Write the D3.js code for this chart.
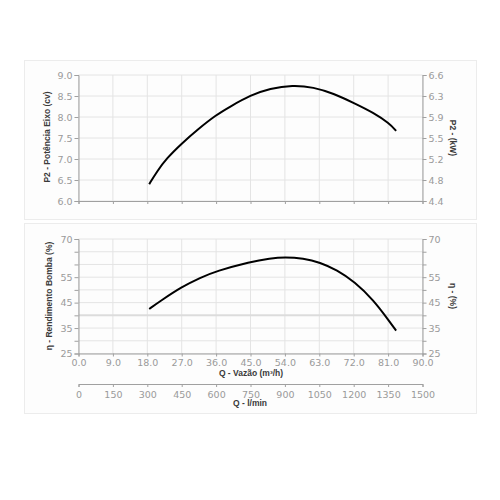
<!DOCTYPE html>
<html><head><meta charset="utf-8">
<script src="https://cdn.jsdelivr.net/npm/d3@7"></script>
<style>
body{margin:0;background:#fff;}
svg{display:block;}
</style></head><body>
<svg id="chart" width="500" height="500"></svg>
<script>
const qTicks = [0, 9, 18, 27, 36, 45, 54, 63, 72, 81, 90];
const lminTicks = [0, 150, 300, 450, 600, 750, 900, 1050, 1200, 1350, 1500];
const powerTicks = [6.0, 6.5, 7.0, 7.5, 8.0, 8.5, 9.0];
const kwLabels = ["4.4", "4.8", "5.2", "5.5", "5.9", "6.3", "6.6"];
const effTicks = [25, 35, 45, 55, 70];
const effGrid = [25, 30, 35, 40, 45, 50, 55, 60, 65, 70];

const powerQ = [18.5, 20.5, 23.1, 27.0, 31.0, 36.0, 39.7, 45.0, 50.1, 56.0, 61.5, 66.7, 72.1, 77.2, 81.3, 83.1];
const powerCv = [6.40, 6.70, 7.02, 7.37, 7.69, 8.05, 8.25, 8.52, 8.68, 8.76, 8.71, 8.56, 8.33, 8.10, 7.85, 7.67];

const effQ = [18.5, 21.4, 27.0, 31.9, 36.0, 45.0, 50.1, 54.0, 58.8, 63.2, 67.6, 72.2, 77.2, 81.4, 83.1];
const effPct = [42.5, 45.6, 51.2, 54.8, 57.4, 61.1, 62.4, 62.9, 62.4, 60.8, 57.8, 53.2, 46.0, 37.5, 34.0];

const svg = d3.select("#chart");
const tickFont = "DejaVu Sans, Verdana, sans-serif";
const titleFont = "Liberation Sans, Arial, sans-serif";
const tickColor = "#9a9a9a";
const axisColor = "#a0a0a0";
const gridColor = "#e4e4e4";
const titleColor = "#3a3a3a";

// panels
svg.append("rect").attr("x", 24.5).attr("y", 60.5).attr("width", 452).attr("height", 159)
  .attr("fill", "#fdfdfd").attr("stroke", "#ececec");
svg.append("rect").attr("x", 24.5).attr("y", 223.5).attr("width", 452).attr("height", 190)
  .attr("fill", "#fdfdfd").attr("stroke", "#ececec");

const x = d3.scaleLinear().domain([0, 90]).range([78.5, 422.5]);
const xl = d3.scaleLinear().domain([0, 1500]).range([78.5, 422.5]);
const yP = d3.scaleLinear().domain([6, 9]).range([201, 75]);
const yE = d3.scaleLinear().domain([25, 70]).range([353.5, 239]);

function styleAxis(g) {
  g.select(".domain").attr("stroke", axisColor);
  g.selectAll(".tick line").attr("stroke", axisColor);
  g.selectAll(".tick text").attr("fill", tickColor).attr("font-family", tickFont).attr("font-size", 9.5);
}

// ---- top panel grid
const gTop = svg.append("g");
gTop.selectAll("line.v").data(qTicks).join("line")
  .attr("x1", d => x(d)).attr("x2", d => x(d)).attr("y1", yP(9)).attr("y2", yP(6))
  .attr("stroke", gridColor);
gTop.selectAll("line.h").data(powerTicks).join("line")
  .attr("x1", x(0)).attr("x2", x(90)).attr("y1", d => yP(d)).attr("y2", d => yP(d))
  .attr("stroke", gridColor);

svg.append("g").attr("transform", `translate(${x(0)},0)`)
  .call(d3.axisLeft(yP).tickValues(powerTicks).tickFormat(d3.format(".1f")).tickSize(4).tickPadding(2))
  .call(styleAxis);
svg.append("g").attr("transform", `translate(${x(90)},0)`)
  .call(d3.axisRight(yP).tickValues(powerTicks).tickFormat((d, i) => kwLabels[i]).tickSize(4).tickPadding(2))
  .call(styleAxis);
svg.append("g").attr("transform", `translate(0,${yP(6)})`)
  .call(d3.axisBottom(x).tickValues(qTicks).tickFormat("").tickSize(3))
  .call(styleAxis);

svg.append("path").datum(powerQ.map((q, i) => [q, powerCv[i]]))
  .attr("d", d3.line().x(d => x(d[0])).y(d => yP(d[1])).curve(d3.curveBasis))
  .attr("fill", "none").attr("stroke", "#000").attr("stroke-width", 2);

// ---- bottom panel grid
const gBot = svg.append("g");
gBot.selectAll("line.v").data(qTicks).join("line")
  .attr("x1", d => x(d)).attr("x2", d => x(d)).attr("y1", yE(70)).attr("y2", yE(25))
  .attr("stroke", gridColor);
gBot.selectAll("line.h").data(effGrid).join("line")
  .attr("x1", x(0)).attr("x2", x(90)).attr("y1", d => yE(d)).attr("y2", d => yE(d))
  .attr("stroke", d => d === 40 ? "#dcdcdc" : gridColor)
  .attr("stroke-width", d => d === 40 ? 2 : 1);

svg.append("g").attr("transform", `translate(${x(0)},0)`)
  .call(d3.axisLeft(yE).tickValues(effGrid).tickFormat(d => effTicks.includes(d) ? d : "").tickSize(4).tickPadding(2))
  .call(styleAxis);
svg.append("g").attr("transform", `translate(${x(90)},0)`)
  .call(d3.axisRight(yE).tickValues(effGrid).tickFormat(d => effTicks.includes(d) ? d : "").tickSize(4).tickPadding(2))
  .call(styleAxis);
svg.append("g").attr("transform", `translate(0,${yE(25)})`)
  .call(d3.axisBottom(x).tickValues(qTicks).tickFormat(d3.format(".1f")).tickSize(3).tickPadding(3))
  .call(styleAxis);
svg.append("g").attr("transform", "translate(0,384)")
  .call(d3.axisBottom(xl).tickValues(lminTicks).tickFormat(d3.format("d")).tickSize(3).tickPadding(4))
  .call(styleAxis);

svg.append("path").datum(effQ.map((q, i) => [q, effPct[i]]))
  .attr("d", d3.line().x(d => x(d[0])).y(d => yE(d[1])).curve(d3.curveBasis))
  .attr("fill", "none").attr("stroke", "#000").attr("stroke-width", 2);

// ---- titles
function title(txt, tx, ty, rot) {
  svg.append("text").attr("transform", `translate(${tx},${ty}) rotate(${rot})`)
    .attr("text-anchor", "middle").attr("dominant-baseline", "middle")
    .attr("font-family", titleFont).attr("font-weight", "bold").attr("font-size", 8.5)
    .attr("fill", titleColor).text(txt);
}
title("P2 - Potência Eixo (cv)", 48, 137, -90);
title("P2 - (kW)", 452, 138, 90);
title("η - Rendimento Bomba (%)", 50, 296, -90);
title("η - (%)", 452, 296, 90);
title("Q - Vazão (m³/h)", 251, 374, 0);
title("Q - l/min", 250, 404, 0);
</script>
</body></html>
